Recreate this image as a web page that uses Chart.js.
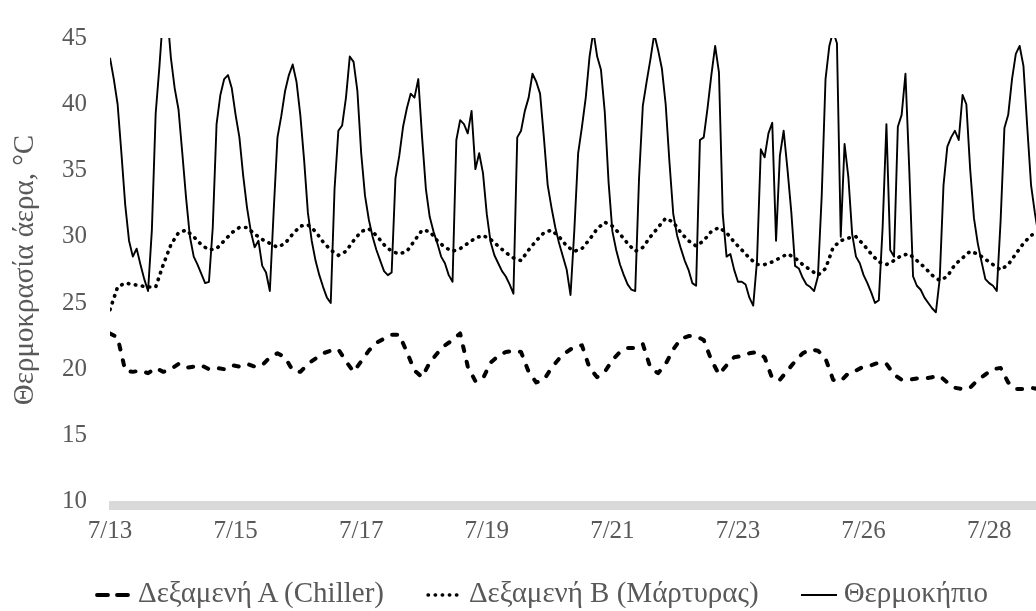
<!DOCTYPE html>
<html><head><meta charset="utf-8">
<script src="https://cdn.jsdelivr.net/npm/chart.js@4.4.1/dist/chart.umd.min.js"></script>
<style>
html,body{margin:0;padding:0;background:#fff;}
#wrap{position:relative;width:1036px;height:611px;overflow:hidden;background:#fff;}
canvas{position:absolute;left:0;top:0;}
#legend{position:absolute;right:48px;top:578px;display:flex;align-items:center;font-family:"Liberation Serif","Times New Roman",serif;font-size:29px;color:#595959;white-space:nowrap;line-height:29px;}
.item{display:flex;align-items:center;margin-left:42px;}
.item:first-child{margin-left:0;}
.item svg{margin-right:5px;display:block;position:relative;top:2px;}
</style></head><body>
<div id="wrap"><canvas id="c" width="1036" height="611"></canvas><div id="legend"></div></div>
<script>
const seriesNames = ["Δεξαμενή Α (Chiller)", "Δεξαμενή Β (Μάρτυρας)", "Θερμοκήπιο"];
const yAxisTitle = "Θερμοκρασία άερα, °C";
const xTickLabels = ["7/13","7/15","7/17","7/19","7/21","7/23","7/26","7/28"];
const samplesPerTick = 33;      // samples (1.5 h each) between date labels
const chillerStep = 2;          // chiller series: one value per 2 samples
const controlStep = 2;          // control series: one value per 2 samples
const greenhouseStep = 1;       // greenhouse series: one value per sample
const xMax = 243.3;
const yMin = 10, yMax = 45, yStep = 5;

const chillerTemps = [22.7,22.4,19.9,19.8,19.9,19.7,20.1,19.8,20.0,20.4,20.1,20.2,20.3,20.0,20.1,20.0,20.3,20.2,20.4,20.2,
20.3,20.9,21.2,20.9,19.9,19.8,20.4,20.8,21.2,21.4,21.5,20.6,19.8,20.6,21.4,22.0,22.3,22.6,22.6,21.3,
19.9,19.4,20.5,21.2,21.8,22.2,22.7,20.2,19.1,19.3,20.5,21.0,21.3,21.4,21.3,19.8,19.0,19.2,20.1,20.8,
21.3,21.7,21.8,20.1,19.4,19.8,20.7,21.3,21.6,21.6,21.9,20.1,19.7,20.4,21.5,22.3,22.5,22.5,22.2,20.7,
19.6,20.3,20.9,21.0,21.2,21.3,20.9,19.3,19.2,19.9,20.6,21.2,21.5,21.4,20.8,19.2,19.1,19.7,19.9,20.2,
20.3,20.5,20.4,19.6,19.2,19.2,19.3,19.3,19.4,19.5,19.0,18.6,18.5,18.6,19.2,19.6,20.0,20.1,19.0,18.5,
18.5,18.6,18.5];

const controlTemps = [24.5,26.2,26.5,26.4,26.3,26.2,26.2,27.9,29.4,30.3,30.5,30.0,29.4,29.0,29.1,29.7,30.3,30.7,30.7,30.2,
29.8,29.5,29.2,29.5,30.2,30.8,30.9,30.4,29.6,29.0,28.6,28.9,29.7,30.4,30.6,30.1,29.4,28.9,28.7,28.9,
29.7,30.5,30.4,29.7,29.2,28.9,29.1,29.5,29.9,30.1,29.8,29.3,28.8,28.4,28.2,29.0,29.7,30.3,30.5,30.0,
29.3,28.9,29.1,29.8,30.6,31.1,30.8,30.2,29.5,28.9,29.2,30.0,30.7,31.4,31.1,30.3,29.7,29.3,29.7,30.4,
30.7,30.3,29.6,29.0,28.4,27.9,27.9,28.1,28.4,28.7,28.4,27.9,27.5,27.1,27.6,29.2,29.7,29.9,30.0,29.4,
28.7,28.1,27.9,28.2,28.6,28.7,28.2,27.7,27.1,26.7,27.0,27.9,28.4,28.9,28.7,28.3,27.9,27.5,27.9,28.7,
29.5,30.1,30.4];

const greenhouseTemps = [43.5,41.9,40.0,36.3,32.4,29.7,28.5,29.1,27.9,26.8,25.9,30.5,39.3,42.9,47,47,43.5,41.2,39.6,36.3,
32.9,30.0,28.5,27.9,27.2,26.5,26.6,30.7,38.5,40.7,41.9,42.2,41.2,39.2,37.5,34.6,32.2,30.4,29.2,29.7,
27.8,27.3,25.9,31.9,37.5,39.1,41.0,42.2,43.0,41.7,39.2,35.8,31.8,29.7,28.2,27.1,26.2,25.4,25.0,33.6,
38.0,38.4,40.5,43.6,43.2,41.0,36.3,33.1,31.3,30.0,29.0,28.2,27.4,27.1,27.3,34.4,36.1,38.3,39.7,40.8,
40.5,41.9,37.5,33.6,31.5,30.4,29.5,28.5,28.0,27.1,26.6,37.3,38.8,38.5,37.8,39.5,35.1,36.3,34.8,31.7,
29.6,28.6,28.0,27.4,27.0,26.4,25.7,37.5,38.0,39.5,40.5,42.3,41.7,40.8,37.5,33.9,32.2,30.7,29.5,28.5,
27.5,25.6,30.5,36.3,38.3,40.5,43.6,45.5,43.6,42.6,39.4,34.1,30.4,29.0,27.9,27.1,26.4,26.0,25.9,34.4,
39.9,41.7,43.4,45.3,44.1,42.7,40.0,35.6,31.7,30.1,29.1,28.2,27.5,26.5,26.3,37.3,37.5,39.7,42.2,44.4,
42.4,31.7,28.5,28.7,27.5,26.6,26.6,26.4,25.4,24.8,28.2,36.6,36.0,37.8,38.6,29.7,36.1,38.0,35.1,31.9,
27.8,27.6,26.9,26.4,26.2,25.9,27.0,33.1,41.9,44.4,45.5,44.6,30.0,37.0,34.5,30.2,28.5,28.0,27.1,26.5,
25.8,25.0,25.2,30.7,38.5,29.0,28.5,38.3,39.2,42.3,35.1,27.0,26.3,26.0,25.4,25.0,24.6,24.3,26.8,33.9,
36.8,37.5,38.0,37.3,40.7,40.0,35.1,31.4,29.5,28.1,26.8,26.5,26.3,25.9,31.2,38.2,39.2,41.9,43.8,44.4,
42.9,38.3,33.9,31.8,30.0];

const FONT = '"Liberation Serif","Times New Roman",serif';
const TXT = '#595959';
const toPoints = (arr, step) => arr.map((v, i) => ({x: i * step, y: v}));

const axisBand = {
  id: 'axisBand',
  beforeDatasetsDraw(chart) {
    const {ctx, chartArea} = chart;
    const y = chart.scales.y.getPixelForValue(yMin);
    ctx.save();
    ctx.fillStyle = '#d9d9d9';
    ctx.fillRect(chartArea.left - 1, y - 0.7, chartArea.right - chartArea.left + 1, 9);
    ctx.restore();
  }
};

const yTitle = {
  id: 'yTitle',
  afterDraw(chart) {
    const {ctx} = chart;
    ctx.save();
    ctx.translate(25, 270);
    ctx.rotate(-Math.PI / 2);
    ctx.font = '29px ' + FONT;
    ctx.fillStyle = TXT;
    ctx.textAlign = 'center';
    ctx.textBaseline = 'middle';
    ctx.fillText(yAxisTitle, 0, 0);
    ctx.restore();
  }
};

new Chart(document.getElementById('c'), {
  type: 'line',
  data: {
    datasets: [
      {label: seriesNames[0], data: toPoints(chillerTemps, chillerStep), borderColor:'#000', borderWidth:4,
       borderDash:[5,11], borderCapStyle:'round', borderJoinStyle:'round', pointRadius:0, tension:0, clip:0},
      {label: seriesNames[1], data: toPoints(controlTemps, controlStep), borderColor:'#000', borderWidth:3.6,
       borderDash:[0.5,6.6], borderCapStyle:'round', pointRadius:0, tension:0, clip:0},
      {label: seriesNames[2], data: toPoints(greenhouseTemps, greenhouseStep), borderColor:'#000', borderWidth:1.9,
       pointRadius:0, tension:0, clip:0, borderJoinStyle:'round'}
    ]
  },
  options: {
    responsive:false, animation:false, devicePixelRatio:1,
    layout:{padding:{top:25.2, left:0, right:0, bottom:0}},
    plugins:{legend:{display:false}, tooltip:{enabled:false}},
    scales:{
      x:{type:'linear', min:0, max:xMax,
         grid:{display:false, drawTicks:false}, border:{display:false},
         afterBuildTicks:(s)=>{ s.ticks = xTickLabels.map((_, i) => ({value: i * samplesPerTick})); },
         afterFit:(s)=>{ s.height = 109.3; },
         ticks:{autoSkip:false, maxRotation:0, padding:15, color:TXT, font:{family:FONT, size:25},
                callback:(v)=> xTickLabels[Math.round(v / samplesPerTick)]}},
      y:{min:yMin, max:yMax,
         grid:{display:false, drawTicks:false}, border:{display:false},
         afterFit:(s)=>{ s.width = 110; },
         ticks:{stepSize:yStep, padding:23, color:TXT, font:{family:FONT, size:25}},
         title:{display:false}}
    }
  },
  plugins:[axisBand, yTitle]
});

// legend
const legendSamples = [
  '<line x1="2" y1="6" x2="36" y2="6" stroke="#000" stroke-width="3.8" stroke-linecap="round" stroke-dasharray="11 9"/>',
  '<line x1="2" y1="6" x2="36" y2="6" stroke="#000" stroke-width="3.4" stroke-linecap="round" stroke-dasharray="0.5 6.6"/>',
  '<line x1="0" y1="6" x2="36" y2="6" stroke="#000" stroke-width="2"/>'
];
document.getElementById('legend').innerHTML = seriesNames.map((n, i) =>
  '<div class="item"><svg width="38" height="12">' + legendSamples[i] + '</svg><span>' + n + '</span></div>').join('');
</script>
</body></html>
